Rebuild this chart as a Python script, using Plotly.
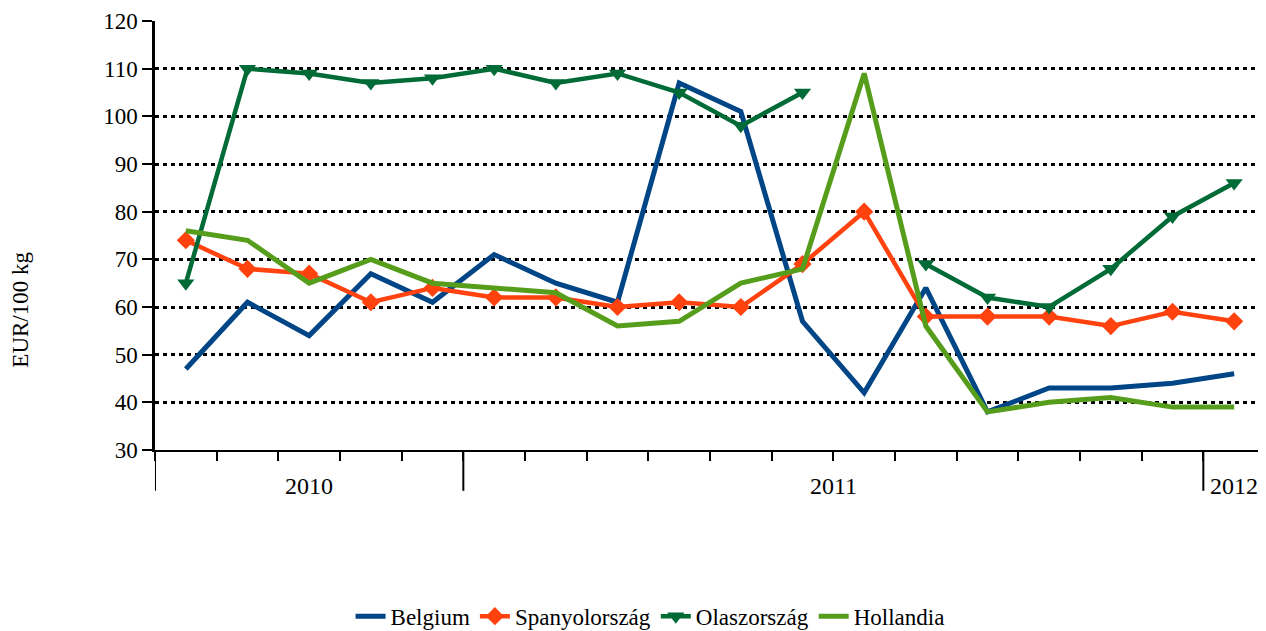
import plotly.graph_objects as go

years = ["2010", "2011", "2012"]
months_per_year = [5, 12, 1]

belgium = [47, 61, 54, 67, 61, 71, 65, 61, 107, 101, 57, 42, 64, 38, 43, 43, 44, 46]
spanyol = [74, 68, 67, 61, 64, 62, 62, 60, 61, 60, 69, 80, 58, 58, 58, 56, 59, 57]
olasz = [65, 110, 109, 107, 108, 110, 107, 109, 105, 98, 105, None, 69, 62, 60, 68, 79, 86]
hollandia = [76, 74, 65, 70, 65, 64, 63, 56, 57, 65, 68, 109, 56, 38, 40, 41, 39, 39]

n = sum(months_per_year)
x = list(range(n))

FONT = "Liberation Serif, Times New Roman, serif"
PLOT_H = 431
PLOT_W = 1110

fig = go.Figure()
fig.add_trace(go.Scatter(x=x, y=belgium, name="Belgium", mode="lines",
                         line=dict(color="#004586", width=5)))
fig.add_trace(go.Scatter(x=x, y=spanyol, name="Spanyolország", mode="lines+markers",
                         line=dict(color="#FF420E", width=4.5),
                         marker=dict(symbol="diamond", size=14, color="#FF420E")))
fig.add_trace(go.Scatter(x=x, y=olasz, name="Olaszország", mode="lines+markers",
                         line=dict(color="#006B36", width=4.5), connectgaps=False,
                         marker=dict(symbol="triangle-down", size=15, color="#006B36")))
fig.add_trace(go.Scatter(x=x, y=hollandia, name="Hollandia", mode="lines",
                         line=dict(color="#579D1C", width=5)))

# boundaries between year groups
bounds = [-0.5]
for c in months_per_year:
    bounds.append(bounds[-1] + c)

long_tick = 41 / PLOT_H
for b in bounds:
    fig.add_shape(type="line", xref="x", yref="paper", x0=b, x1=b, y0=0, y1=-long_tick,
                  line=dict(color="black", width=2))

for i, yname in enumerate(years):
    mid = (bounds[i] + bounds[i + 1]) / 2
    fig.add_annotation(x=mid, y=-36 / PLOT_H, xref="x", yref="paper", text=yname,
                       showarrow=False, font=dict(family=FONT, size=24, color="black"),
                       xanchor="center", yanchor="middle")

fig.add_annotation(x=-(147 - 13) / PLOT_W, y=(444 - 303) / PLOT_H, xref="paper", yref="paper",
                   text="EUR/100 kg", textangle=-90, showarrow=False,
                   xanchor="center", yanchor="middle",
                   font=dict(family=FONT, size=23, color="black"))

fig.update_layout(
    width=1258, height=631,
    margin=dict(l=147, r=1, t=13, b=187),
    paper_bgcolor="white", plot_bgcolor="white",
    font=dict(family=FONT, size=23, color="black"),
    showlegend=True,
    legend=dict(orientation="h", x=0.446, xanchor="center", y=-0.3875, yanchor="middle",
                font=dict(family=FONT, size=23), itemwidth=30, tracegroupgap=0),
    xaxis=dict(range=[-0.5, n - 0.5], showgrid=False, zeroline=False,
               tickmode="array", tickvals=[k + 0.5 for k in range(-1, n)],
               ticks="outside", ticklen=9, tickwidth=2, tickcolor="black",
               showticklabels=False, showline=True, linecolor="black", linewidth=2),
    yaxis=dict(range=[30, 120], dtick=10, tick0=30, showgrid=True, gridcolor="black",
               gridwidth=2.5, griddash="4px,4px", zeroline=False,
               ticks="outside", ticklen=10, tickwidth=2, tickcolor="black",
               showline=True, linecolor="black", linewidth=2.5,
               tickfont=dict(family=FONT, size=23)),
)

fig.write_html("out.html")
